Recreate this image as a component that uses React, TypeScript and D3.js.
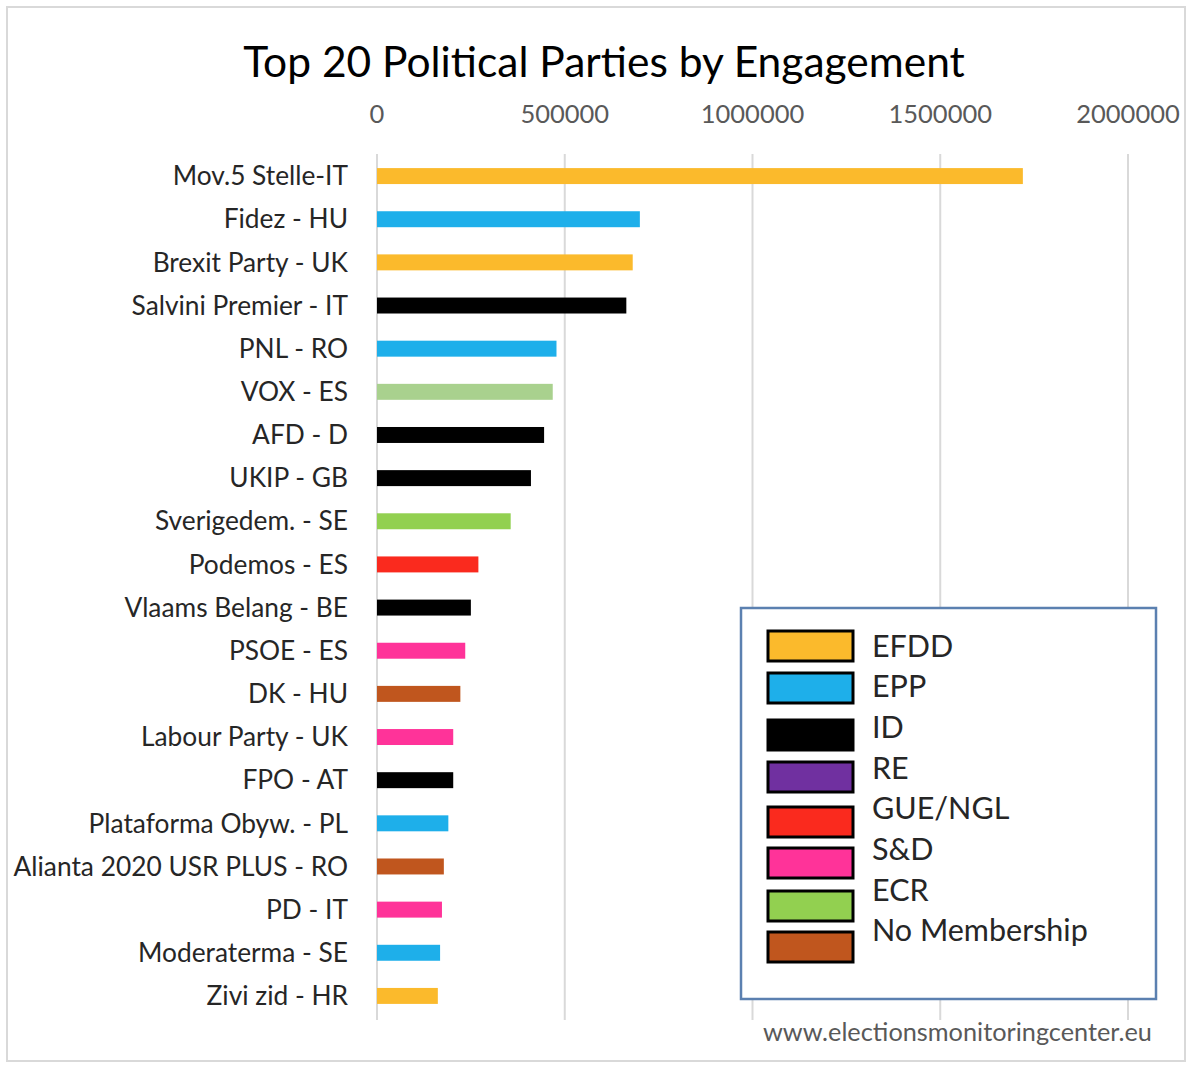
import React from "react";
import * as d3 from "d3";

const parties = [
  "Mov.5 Stelle-IT",
  "Fidez - HU",
  "Brexit Party - UK",
  "Salvini Premier - IT",
  "PNL - RO",
  "VOX - ES",
  "AFD - D",
  "UKIP - GB",
  "Sverigedem. - SE",
  "Podemos - ES",
  "Vlaams Belang - BE",
  "PSOE - ES",
  "DK - HU",
  "Labour Party - UK",
  "FPO - AT",
  "Plataforma Obyw. - PL",
  "Alianta 2020 USR PLUS - RO",
  "PD - IT",
  "Moderaterma - SE",
  "Zivi zid - HR",
];

const engagement = [
  1720000, 700000, 681000, 664000, 478000, 468000, 445000, 410000, 356000,
  270000, 250000, 235000, 222000, 203000, 203000, 190000, 178000, 173000,
  168000, 162000,
];

const groups = [
  "EFDD", "EPP", "EFDD", "ID", "EPP", "ECR", "ID", "ID", "ECR", "GUE/NGL",
  "ID", "S&D", "No Membership", "S&D", "ID", "EPP", "No Membership", "S&D",
  "EPP", "EFDD",
];

const legendGroups = ["EFDD", "EPP", "ID", "RE", "GUE/NGL", "S&D", "ECR", "No Membership"];

const xTicks = [0, 500000, 1000000, 1500000, 2000000];

const title = "Top 20 Political Parties by Engagement";
const source = "www.electionsmonitoringcenter.eu";

// styles
const groupColors: Record<string, string> = {
  EFDD: "#FBBA2C",
  EPP: "#1EAFEA",
  ID: "#000000",
  RE: "#7030A0",
  "GUE/NGL": "#FA2A1E",
  "S&D": "#FF3399",
  ECR: "#92D050",
  "No Membership": "#C0561E",
};
const barColorOverride: Record<string, string> = { "VOX - ES": "#A9D18E" };

const FONT = "Lato, 'Open Sans', sans-serif";

export default function App() {
  const W = 1192;
  const H = 1066;
  const x = d3.scaleLinear().domain([0, 2000000]).range([377, 1128]);
  const y = d3.scaleBand<string>().domain(parties).range([154.5, 1017.5]).paddingInner(0.63).paddingOuter(0.315);

  const legendSwatchY = [646, 688, 735, 777, 822, 863, 906, 947];
  const legendTextY = [646, 686, 727, 768, 808, 849, 890, 930];

  return (
    <svg
      width={W}
      height={H}
      style={{ position: "absolute", left: 0, top: 0, background: "#fff" }}
      fontFamily={FONT}
    >
      <rect x={0} y={0} width={W} height={H} fill="#fff" />
      <rect x={7} y={7} width={W - 14} height={H - 12} fill="none" stroke="#d9d9d9" strokeWidth={2} />
      <text x={604} y={77} textAnchor="middle" fontSize={42.5} fill="#000">
        {title}
      </text>
      {xTicks.map((t) => (
        <g key={t}>
          <line x1={x(t)} x2={x(t)} y1={154} y2={1020} stroke="#d9d9d9" strokeWidth={2} />
          <text x={x(t)} y={123} textAnchor="middle" fontSize={25.5} fill="#595959">
            {t}
          </text>
        </g>
      ))}
      {parties.map((p, i) => (
        <g key={p}>
          <rect
            x={x(0)}
            y={y(p)!}
            width={x(engagement[i]) - x(0)}
            height={y.bandwidth()}
            fill={barColorOverride[p] ?? groupColors[groups[i]]}
          />
          <text
            x={348}
            y={y(p)! + y.bandwidth() / 2}
            dy="0.35em"
            textAnchor="end"
            fontSize={26.3}
            fill="#262626"
          >
            {p}
          </text>
        </g>
      ))}
      <rect x={741} y={608} width={415} height={391} fill="#fff" stroke="#5B80B0" strokeWidth={2.5} />
      {legendGroups.map((g, i) => (
        <g key={g}>
          <rect
            x={768}
            y={legendSwatchY[i] - 15}
            width={85}
            height={30}
            fill={groupColors[g]}
            stroke="#000"
            strokeWidth={3}
          />
          <text x={872} y={legendTextY[i]} dy="0.35em" fontSize={30.5} fill="#262626">
            {g}
          </text>
        </g>
      ))}
      <text x={763} y={1041} fontSize={25.3} fill="#595959">
        {source}
      </text>
    </svg>
  );
}
